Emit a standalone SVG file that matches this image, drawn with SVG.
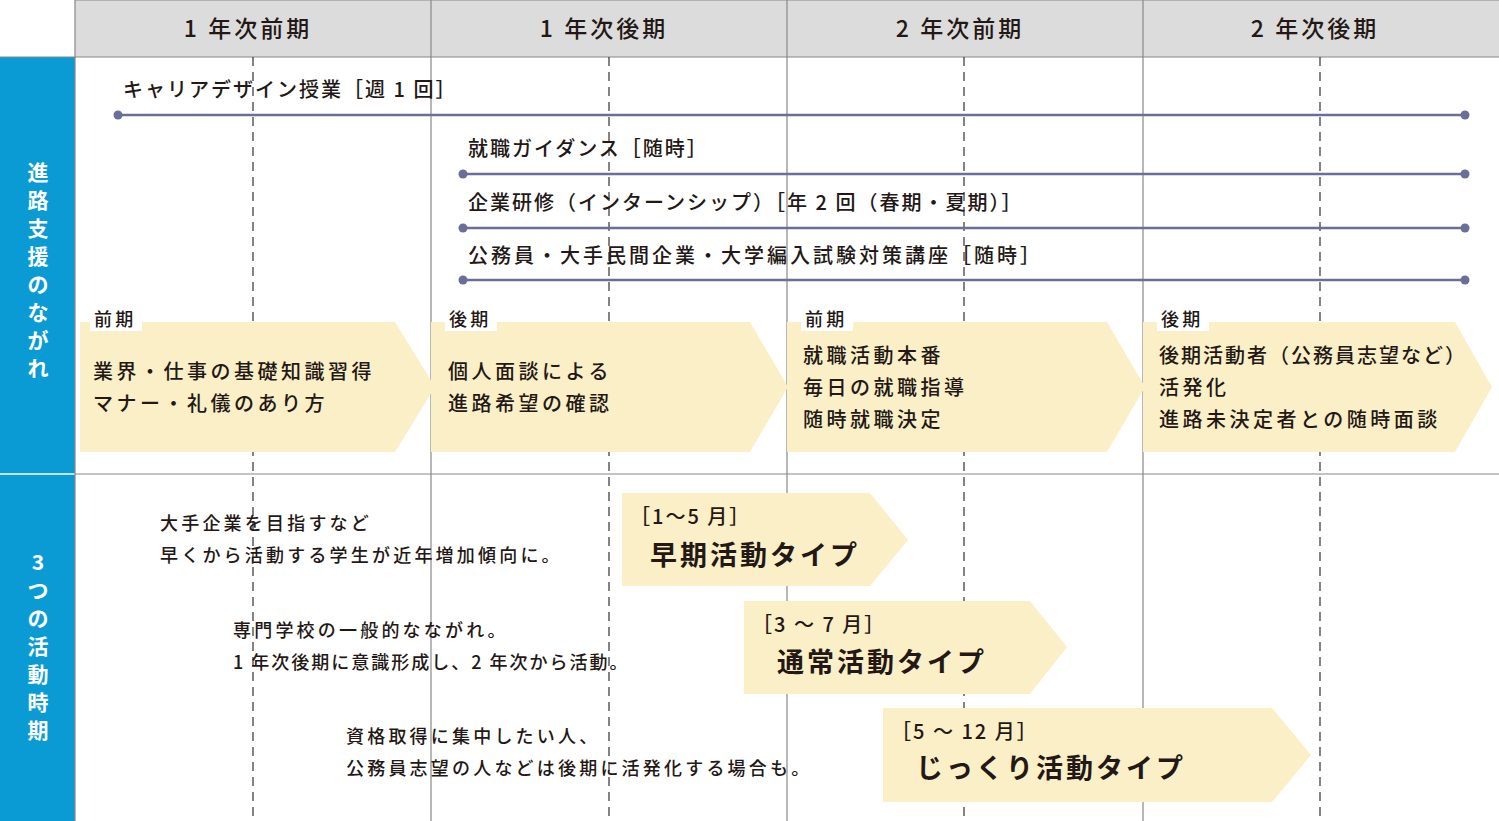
<svg xmlns="http://www.w3.org/2000/svg" width="1499" height="821" viewBox="0 0 1499 821">
<style>
text{font-family:"Noto Sans CJK JP","Noto Sans",sans-serif;fill:#231815}
.h{font-size:23px;font-weight:500;text-anchor:middle;letter-spacing:3px}
.t{font-size:20px;font-weight:500;letter-spacing:3.5px}
.s{font-size:18px;font-weight:500;letter-spacing:3.2px}
.b{font-size:27px;font-weight:700;letter-spacing:3px}
.side{font-size:21px;font-weight:700;fill:#fff;text-anchor:middle}
.grid{stroke:#888;stroke-width:1.2}
.dash{stroke:#333;stroke-width:1.2;stroke-dasharray:9 6}
.bar{stroke:#6a6e98;stroke-width:2.5}
.chev{fill:#faefc6}
</style>
<defs><marker id="dot" markerWidth="10" markerHeight="10" refX="5" refY="5" markerUnits="userSpaceOnUse"><circle cx="5" cy="5" r="4.5" fill="#6a6e98"/></marker></defs>
<rect width="1499" height="821" fill="#fff"/>
<g id="header">
<rect x="75" y="0" width="1424" height="57" fill="#dcdcdc"/>
<text class="h" x="248" y="37">1 年次前期</text>
<text class="h" x="604" y="37">1 年次後期</text>
<text class="h" x="960" y="37">2 年次前期</text>
<text class="h" x="1315" y="37">2 年次後期</text>
</g>
<g id="sidebar">
<rect x="0" y="57" width="75" height="764" fill="#0b9bd4"/>
<line x1="0" y1="474" x2="75" y2="474" stroke="#fff" stroke-width="1.5"/>
<text class="side" x="38" y="180">進</text><text class="side" x="38" y="208">路</text><text class="side" x="38" y="236">支</text><text class="side" x="38" y="264">援</text><text class="side" x="38" y="292">の</text><text class="side" x="38" y="320">な</text><text class="side" x="38" y="348">が</text><text class="side" x="38" y="376">れ</text>
<text class="side" x="38" y="570">3</text><text class="side" x="38" y="598">つ</text><text class="side" x="38" y="626">の</text><text class="side" x="38" y="654">活</text><text class="side" x="38" y="682">動</text><text class="side" x="38" y="710">時</text><text class="side" x="38" y="738">期</text>
</g>
<g id="grid">
<line class="grid" x1="75" y1="0" x2="1499" y2="0"/>
<line class="grid" x1="75" y1="0" x2="75" y2="821"/>
<line class="grid" x1="0" y1="57" x2="1499" y2="57"/>
<line class="grid" x1="75" y1="474" x2="1499" y2="474"/>
<line class="grid" x1="431" y1="0" x2="431" y2="821"/>
<line class="grid" x1="787" y1="0" x2="787" y2="821"/>
<line class="grid" x1="1143" y1="0" x2="1143" y2="821"/>
<line class="dash" x1="253" y1="57" x2="253" y2="821"/>
<line class="dash" x1="609" y1="57" x2="609" y2="821"/>
<line class="dash" x1="964" y1="57" x2="964" y2="821"/>
<line class="dash" x1="1320" y1="57" x2="1320" y2="821"/>
</g>
<g id="connectors">
<line class="bar" x1="118" y1="115" x2="1465" y2="115" marker-start="url(#dot)" marker-end="url(#dot)"/>
<line class="bar" x1="463" y1="174" x2="1465" y2="174" marker-start="url(#dot)" marker-end="url(#dot)"/>
<line class="bar" x1="463" y1="228" x2="1465" y2="228" marker-start="url(#dot)" marker-end="url(#dot)"/>
<line class="bar" x1="463" y1="280" x2="1465" y2="280" marker-start="url(#dot)" marker-end="url(#dot)"/>
</g>
<g id="bar-labels">
<text class="t" x="123" y="97" style="letter-spacing:2px">キャリアデザイン授業［週 1 回］</text>
<text class="t" x="468" y="156" style="letter-spacing:2px">就職ガイダンス［随時］</text>
<text class="t" x="468" y="210" style="letter-spacing:2px">企業研修（インターンシップ）［年 2 回（春期・夏期）］</text>
<text class="t" x="468" y="263" style="letter-spacing:3px">公務員・大手民間企業・大学編入試験対策講座［随時］</text>
</g>
<g id="phase1"><polygon class="chev" points="80,322 395,322 435,387 395,452 80,452"/>
<rect x="90" y="305" width="52" height="26" fill="#fff"/><text class="s" x="94" y="326">前期</text>
<text class="t" x="93" y="379">業界・仕事の基礎知識習得</text><text class="t" x="93" y="411">マナー・礼儀のあり方</text></g>
<g id="phase2"><polygon class="chev" points="431,322 750,322 788,387 750,452 431,452"/>
<rect x="445" y="305" width="52" height="26" fill="#fff"/><text class="s" x="449" y="326">後期</text>
<text class="t" x="448" y="379">個人面談による</text><text class="t" x="448" y="411">進路希望の確認</text></g>
<g id="phase3"><polygon class="chev" points="787,322 1107,322 1145,387 1107,452 787,452"/>
<rect x="801" y="305" width="52" height="26" fill="#fff"/><text class="s" x="805" y="326">前期</text>
<text class="t" x="803" y="363">就職活動本番</text><text class="t" x="803" y="395">毎日の就職指導</text><text class="t" x="803" y="427">随時就職決定</text></g>
<g id="phase4"><polygon class="chev" points="1143,322 1455,322 1492,387 1455,452 1143,452"/>
<rect x="1157" y="305" width="52" height="26" fill="#fff"/><text class="s" x="1161" y="326">後期</text>
<text class="t" x="1159" y="363" style="letter-spacing:2px">後期活動者（公務員志望など）</text><text class="t" x="1159" y="395">活発化</text><text class="t" x="1159" y="427">進路未決定者との随時面談</text></g>
<g id="early"><polygon class="chev" points="622,493 870,493 908,540 870,586 622,586"/>
<text class="t" x="630" y="524" style="letter-spacing:2px">［1〜5 月］</text><text class="b" x="650" y="565">早期活動タイプ</text>
<text class="s" x="160" y="530">大手企業を目指すなど</text><text class="s" x="160" y="562">早くから活動する学生が近年増加傾向に。</text></g>
<g id="normal"><polygon class="chev" points="744,601 1030,601 1067,647 1030,694 744,694"/>
<text class="t" x="752" y="632" style="letter-spacing:2px">［3 〜 7 月］</text><text class="b" x="777" y="672">通常活動タイプ</text>
<text class="s" x="233" y="637">専門学校の一般的なながれ。</text><text class="s" x="233" y="669" style="letter-spacing:2px">1 年次後期に意識形成し、2 年次から活動。</text></g>
<g id="slow"><polygon class="chev" points="883,708 1272,708 1311,755 1272,802 883,802"/>
<text class="t" x="891" y="739" style="letter-spacing:2px">［5 〜 12 月］</text><text class="b" x="916" y="778">じっくり活動タイプ</text>
<text class="s" x="346" y="743">資格取得に集中したい人、</text><text class="s" x="346" y="775">公務員志望の人などは後期に活発化する場合も。</text></g>
</svg>
